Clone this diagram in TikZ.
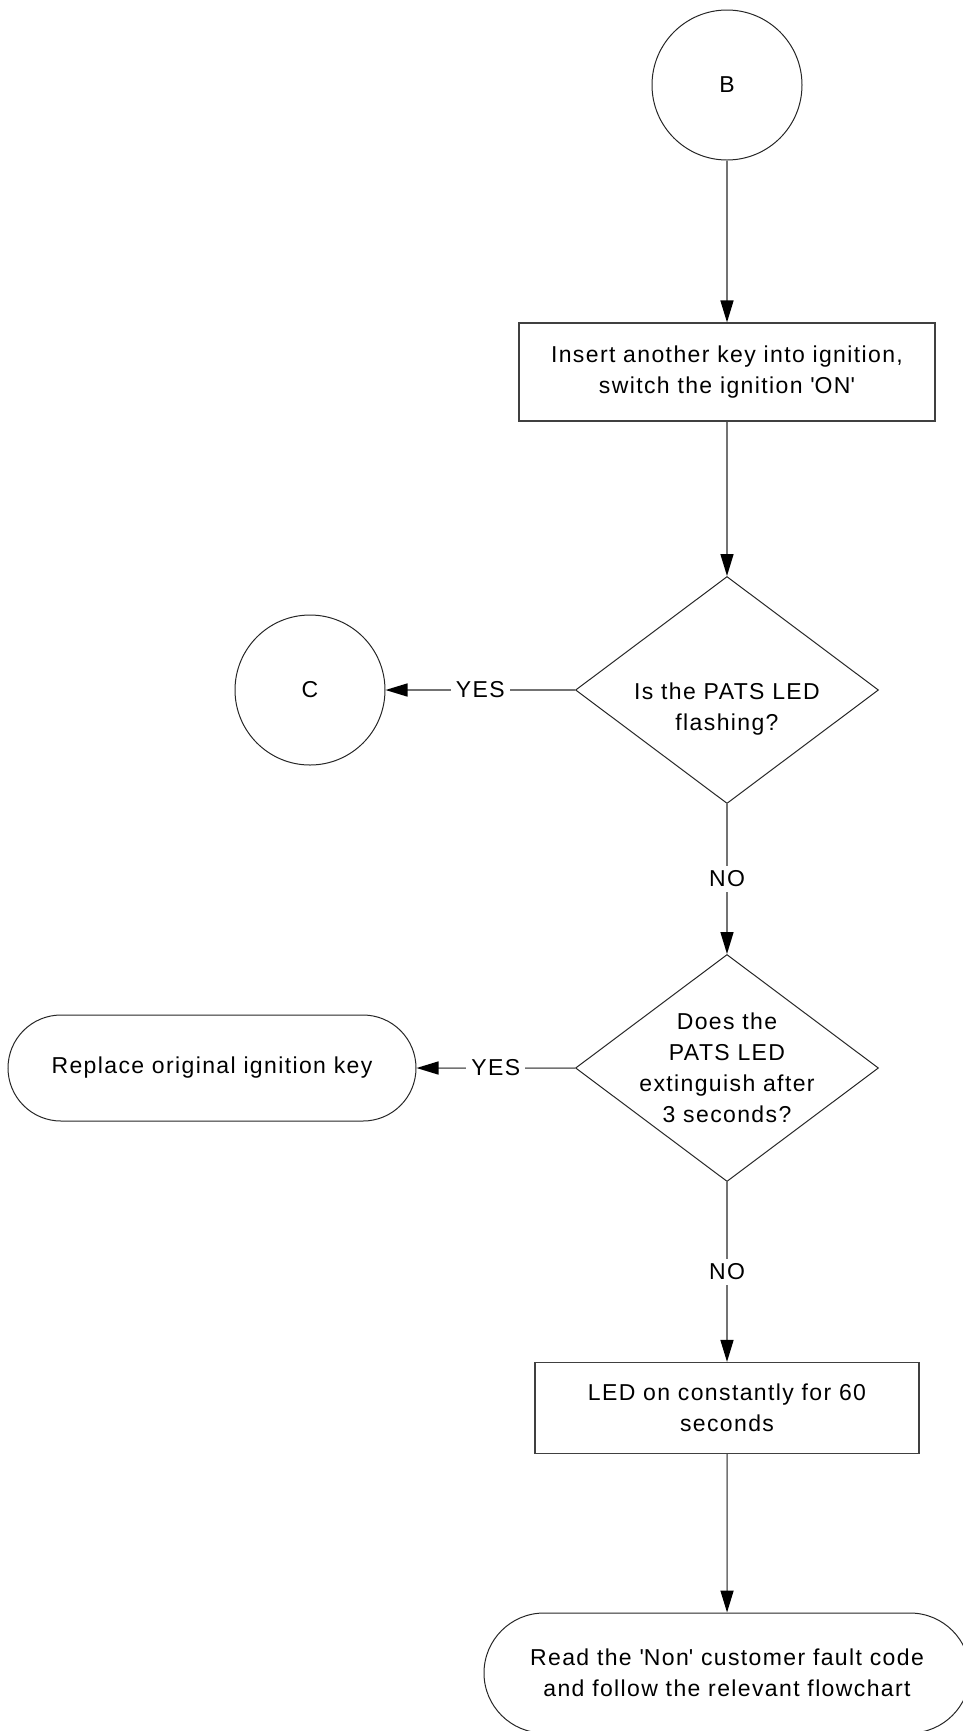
\documentclass[tikz,border=0pt]{standalone}
\usepackage{fontspec}
\setmainfont[LetterSpace=6]{Liberation Sans}
\usetikzlibrary{calc,positioning,shapes,arrows.meta}

\tikzset{
  conn/.style = {draw=black!55, line width=.75pt,
                 -{Triangle[length=11pt,width=6.5pt,color=black]}},
  offpage/.style = {circle, draw=black!85, line width=.5pt, minimum size=75pt, inner sep=0pt},
  process/.style = {rectangle, draw=black!75, line width=.6pt, align=center, inner sep=0pt},
  decision/.style = {diamond, draw=black!85, line width=.5pt, minimum width=151.5pt,
                     minimum height=113.5pt, inner sep=0pt},
  qtext/.style = {align=center, inner sep=0pt},
  terminal/.style = {rounded rectangle, draw=black!85, line width=.5pt, align=center, inner sep=0pt},
  answer/.style = {fill=white, inner sep=2.5pt}
}

\begin{document}
\begin{tikzpicture}[x=.5pt, y=-.5pt, font=\fontsize{11.5}{15.5}\selectfont]
\useasboundingbox (0,0) rectangle (963,1731);
%\draw[help lines] (0,0) grid[step=100] (963,1731);

\node[offpage] (b) at (727,85) {B};
\node[process, minimum width=208pt, minimum height=49pt] (ins) at (727,372)
  {Insert another key into ignition,\\switch the ignition \textquotesingle ON\textquotesingle};

\node[decision] (q1) at (727,690) {};
\node[qtext] (q1txt) at ($(q1.center)+(0,19)$) {Is the PATS LED\\flashing?};
\node[offpage] (c) at (310,690) {C};

\node[decision] (q2) at (727,1068) {};
\node[qtext] (q2txt) at (q2.center) {Does the\\PATS LED\\extinguish after\\3 seconds?};
\node[terminal, minimum width=204pt, minimum height=53pt] (repl) at (212,1068)
  {Replace original ignition key};

\node[process, minimum width=192pt, minimum height=45.5pt] (led) at (727,1408)
  {LED on constantly for 60\\seconds};
\node[terminal, minimum width=243pt, minimum height=60pt] (read) at (727,1673)
  {Read the \textquotesingle Non\textquotesingle\ customer fault code\\and follow the relevant flowchart};

\draw[conn] (b) -- (ins);
\draw[conn] (ins) -- (q1);
\draw[conn] (q1) -- node[answer] {YES} (c);
\draw[conn] (q1) -- node[answer] {NO} (q2);
\draw[conn] (q2) -- node[answer] {YES} (repl);
\draw[conn] (q2) -- node[answer] {NO} (led);
\draw[conn] (led) -- (read);
\end{tikzpicture}
\end{document}
